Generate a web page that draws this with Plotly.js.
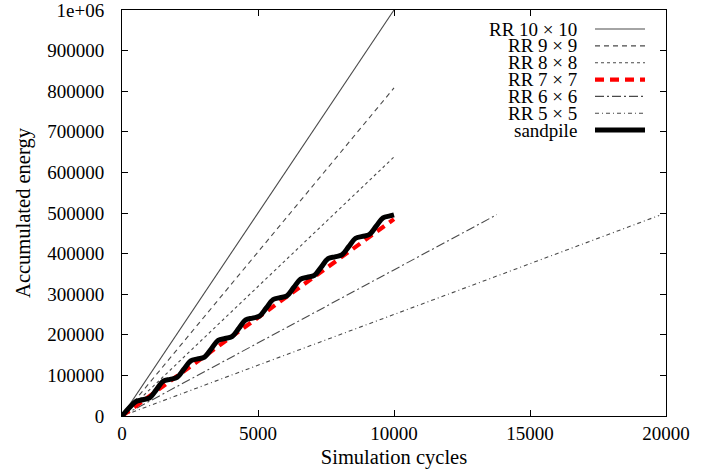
<!DOCTYPE html>
<html>
<head>
<meta charset="utf-8">
<script src="https://cdn.plot.ly/plotly-3.0.1.min.js"></script>
<style>html,body{margin:0;padding:0;background:#fff;}#chart{width:708px;height:474px;}</style>
</head>
<body>
<div id="chart"></div>
<script>
// ---- data ----
const seriesNames = ["RR 10 \u00d7 10", "RR 9 \u00d7 9", "RR 8 \u00d7 8", "RR 7 \u00d7 7", "RR 6 \u00d7 6", "RR 5 \u00d7 5", "sandpile"];

const rr10X = [0, 10000];
const rr10Y = [0, 1000000];
const rr9X = [0, 10000];
const rr9Y = [0, 808000];
const rr8X = [0, 10000];
const rr8Y = [0, 638000];
const rr7X = [0, 10000];
const rr7Y = [0, 485000];
const rr6X = [0, 13780];
const rr6Y = [0, 496000];
const rr5X = [0, 19750];
const rr5Y = [0, 494000];

const sandX = [0, 250, 500,
  760, 1012, 1265, 1517,
  1770, 2022, 2275, 2527,
  2780, 3032, 3285, 3537,
  3790, 4042, 4295, 4547,
  4800, 5052, 5305, 5557,
  5810, 6062, 6315, 6567,
  6820, 7072, 7325, 7577,
  7830, 8082, 8335, 8587,
  8840, 9092, 9345, 9597,
  9850, 10000];
const sandY = [0, 19000, 35000,
  40000, 44600, 65100, 85700,
  90300, 94900, 115400, 136000,
  140600, 145200, 165700, 186300,
  190900, 195500, 216000, 236600,
  241200, 245800, 266300, 286900,
  291500, 296100, 316600, 337200,
  341800, 346400, 366900, 387500,
  392100, 396700, 417200, 437800,
  442400, 447000, 467500, 488100,
  492700, 495500];

const yTickVals = [0, 100000, 200000, 300000, 400000, 500000, 600000, 700000, 800000, 900000, 1000000];
const yTickText = ["0", "100000", "200000", "300000", "400000", "500000", "600000", "700000", "800000", "900000", "1e+06"];
const xTickVals = [0, 5000, 10000, 15000, 20000];
const xTickText = ["0", "5000", "10000", "15000", "20000"];

// ---- styles ----
const gray = "#4a4a4a";
const styles = [
  {color: gray, width: 1.1, dash: "solid"},
  {color: gray, width: 1.1, dash: "5px,4px"},
  {color: gray, width: 1.1, dash: "3px,3px"},
  {color: "#ff0000", width: 4.2, dash: "9px,6px"},
  {color: gray, width: 1.1, dash: "9px,3px,2px,3px"},
  {color: gray, width: 1.1, dash: "4px,3px,1px,3px"},
  {color: "#000000", width: 5, dash: "solid"}
];
const xs = [rr10X, rr9X, rr8X, rr7X, rr6X, rr5X, sandX];
const ys = [rr10Y, rr9Y, rr8Y, rr7Y, rr6Y, rr5Y, sandY];

const font = {family: "Liberation Serif", size: 19, color: "#000"};
const titleFont = {family: "Liberation Serif", size: 20.5, color: "#000"};

const traces = [];
const order = [0, 1, 2, 4, 5, 3, 6];
order.forEach(i => {
  traces.push({
    x: xs[i], y: ys[i], type: "scatter", mode: "lines", name: seriesNames[i],
    line: {color: styles[i].color, width: styles[i].width, dash: styles[i].dash,
           shape: i === 6 ? "spline" : "linear", smoothing: 1},
    hoverinfo: "skip", showlegend: false
  });
});

// manual legend (text right-aligned, sample on the right)
const annotations = [];
const shapes = [];
const legTextX = 578, legLineX0 = 595, legLineX1 = 645, legY0 = 29, legDy = 16.85;
const plotL = 122, plotR = 666, plotT = 10, plotB = 416;
const px2x = p => (p - plotL) / (plotR - plotL);
const py2y = p => (plotB - p) / (plotB - plotT);
seriesNames.forEach((nm, i) => {
  const py = legY0 + legDy * i;
  annotations.push({xref: "paper", yref: "paper", x: px2x(legTextX), y: py2y(py),
    xanchor: "right", yanchor: "middle", text: nm, showarrow: false, font: font,
    borderpad: 0});
  shapes.push({type: "line", xref: "paper", yref: "paper",
    x0: px2x(legLineX0), x1: px2x(legLineX1), y0: py2y(py), y1: py2y(py),
    line: {color: styles[i].color, width: styles[i].width, dash: styles[i].dash}});
});

const layout = {
  width: 708, height: 474,
  margin: {l: plotL, r: 708 - plotR, t: plotT, b: 474 - plotB},
  paper_bgcolor: "#fff", plot_bgcolor: "#fff",
  font: font,
  showlegend: false,
  xaxis: {
    range: [0, 20000], tickvals: xTickVals, ticktext: xTickText,
    showline: true, linecolor: "#000", linewidth: 1, mirror: "allticks",
    ticks: "inside", ticklen: 6, tickcolor: "#000", showgrid: false, zeroline: false,
    tickfont: font, ticklabeloverflow: "allow",
    title: {text: "Simulation cycles", font: titleFont, standoff: 6}
  },
  yaxis: {
    range: [0, 1000000], tickvals: yTickVals, ticktext: yTickText,
    showline: true, linecolor: "#000", linewidth: 1, mirror: "allticks",
    ticks: "inside", ticklen: 6, tickcolor: "#000", showgrid: false, zeroline: false,
    tickfont: font, ticklabelstandoff: 13, ticklabeloverflow: "allow",
    title: {text: "Accumulated energy", font: titleFont, standoff: 11}
  },
  annotations: annotations,
  shapes: shapes
};

Plotly.newPlot("chart", traces, layout, {staticPlot: true, displayModeBar: false});
</script>
</body>
</html>
